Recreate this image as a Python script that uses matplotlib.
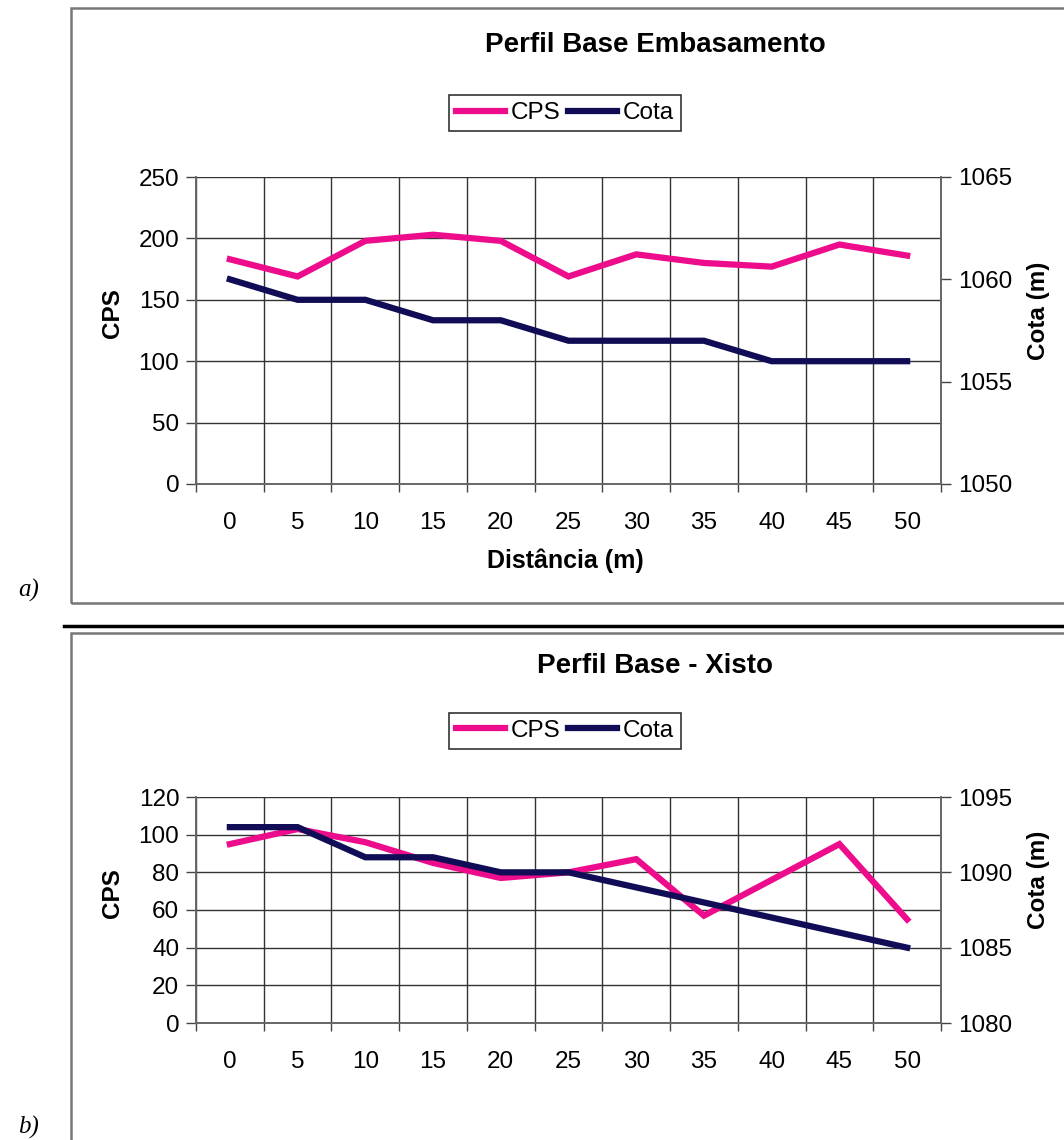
import numpy as np
import matplotlib.pyplot as plt
from matplotlib.patches import Rectangle
from matplotlib.lines import Line2D

plt.rcParams['font.family'] = ['Liberation Sans', 'DejaVu Sans']

dist = [0, 5, 10, 15, 20, 25, 30, 35, 40, 45, 50]

# a) Perfil Base Embasamento
cps_a = [183, 169, 198, 203, 198, 169, 187, 180, 177, 195, 186]
cota_a = [1060, 1059, 1059, 1058, 1058, 1057, 1057, 1057, 1056, 1056, 1056]

# b) Perfil Base - Xisto
cps_b = [95, 103, 96, 85, 77, 80, 87, 57, 76, 95, 55]
cota_b = [1093, 1093, 1091, 1091, 1090, 1090, 1089, 1088, 1087, 1086, 1085]

PINK = '#EC0C8C'
NAVY = '#100C55'
W, H = 1064, 1140

fig = plt.figure(figsize=(W / 100, H / 100), dpi=100)


def fx(px):
    return px / W


def fy(py):
    return 1 - py / H


def panel(top, bottom, cps, cota, ylim, ystep, y2lim, y2step, title, title_y,
          leg_y, xlabel, lab_y):
    ax = fig.add_axes([fx(196), fy(bottom), fx(941) - fx(196), fy(top) - fy(bottom)])
    x = np.arange(len(dist))
    ax.plot(x, cps, color=PINK, lw=4.5, solid_joinstyle='miter', zorder=3)
    ax.set_xlim(-0.5, len(dist) - 0.5)
    ax.set_ylim(*ylim)
    ax.set_yticks(np.arange(ylim[0], ylim[1] + 1, ystep))
    ax.set_xticks(x)
    ax.set_xticklabels([str(d) for d in dist])
    ax.set_xticks(np.arange(-0.5, len(dist), 1), minor=True)
    ax.tick_params(axis='x', which='major', length=0, pad=20, labelsize=17.5)
    ax.tick_params(axis='x', which='minor', length=6, width=1, direction='out', color='#444444')
    ax.tick_params(axis='y', length=7, width=1, pad=5, labelsize=17.5, color='#444444')
    ax.grid(True, axis='y', which='major', color='#333333', lw=1)
    ax.grid(True, axis='x', which='minor', color='#333333', lw=1)
    for s in ax.spines.values():
        s.set_color('#666666')
        s.set_linewidth(1.2)
    ax.spines['top'].set_visible(False)

    ax2 = ax.twinx()
    ax2.plot(x, cota, color=NAVY, lw=4.5, solid_joinstyle='miter', zorder=3)
    ax2.set_ylim(*y2lim)
    ax2.set_yticks(np.arange(y2lim[0], y2lim[1] + 1, y2step))
    ax2.tick_params(axis='y', length=7, width=1, pad=5, labelsize=17.5, color='#444444')
    for s in ax2.spines.values():
        s.set_color('#666666')
        s.set_linewidth(1.2)
    ax2.spines['top'].set_visible(False)

    fig.text(fx(112), fy(lab_y[0]), 'CPS', rotation=90, ha='center', va='center',
             fontsize=17.5, fontweight='bold')
    fig.text(fx(1038), fy(lab_y[1]), 'Cota (m)', rotation=90, ha='center', va='center',
             fontsize=17.5, fontweight='bold')
    fig.text(fx(655), fy(title_y), title, ha='center', va='center',
             fontsize=20, fontweight='bold')
    if xlabel:
        fig.text(fx(565), fy(561), xlabel, ha='center', va='center',
                 fontsize=18, fontweight='bold')

    handles = [Line2D([], [], color=PINK, lw=4.5), Line2D([], [], color=NAVY, lw=4.5)]
    leg = fig.legend(handles, ['CPS', 'Cota'], loc='center', ncol=2,
                     bbox_to_anchor=(fx(565), fy(leg_y)), fontsize=17.5,
                     frameon=True, fancybox=False, handlelength=2.0,
                     handletextpad=0.25, columnspacing=0.3, borderpad=0.3,
                     borderaxespad=0)
    leg.get_frame().set_edgecolor('black')
    leg.get_frame().set_linewidth(1.2)
    return ax


panel(177, 484, cps_a, cota_a, (0, 250), 50, (1050, 1065), 5,
      'Perfil Base Embasamento', 45, 113, 'Distância (m)', (313, 311))
panel(797, 1023, cps_b, cota_b, (0, 120), 20, (1080, 1095), 5,
      'Perfil Base - Xisto', 666, 731, None, (893, 880))

# outer frames
fig.add_artist(Rectangle((fx(71), fy(603)), fx(1100) - fx(71), fy(8) - fy(603),
                         transform=fig.transFigure, fill=False,
                         edgecolor='#777777', lw=1.8))
fig.add_artist(Rectangle((fx(71), fy(1160)), fx(1100) - fx(71), fy(633) - fy(1160),
                         transform=fig.transFigure, fill=False,
                         edgecolor='#777777', lw=1.8))
fig.add_artist(Line2D([fx(64), fx(1064)], [fy(626), fy(626)],
                      transform=fig.transFigure, color='black', lw=2.5))

fig.text(fx(18), fy(590), 'a)', fontsize=18, style='italic',
         family='Liberation Serif', va='center')
fig.text(fx(18), fy(1127), 'b)', fontsize=18, style='italic',
         family='Liberation Serif', va='center')

fig.savefig('out.png', dpi=100)
